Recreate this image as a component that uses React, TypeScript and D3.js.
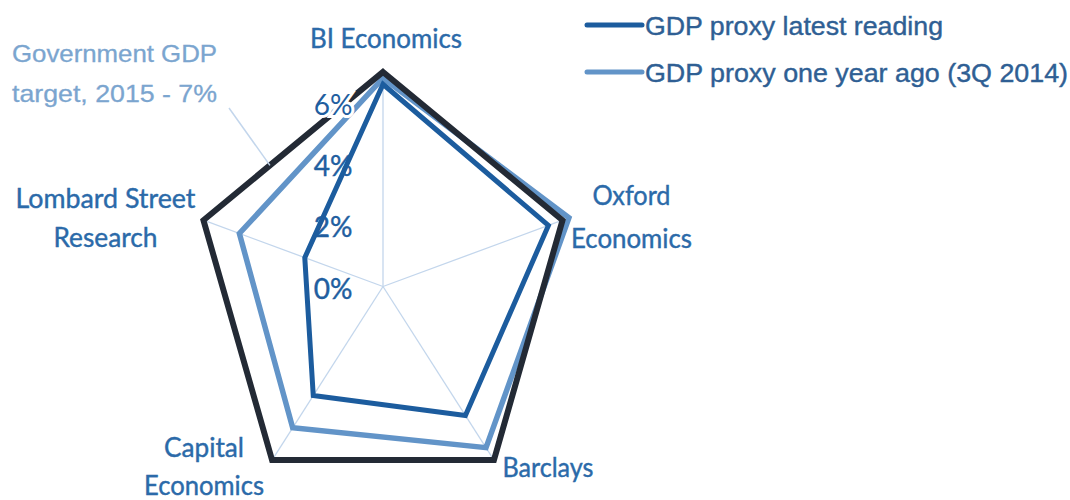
import React from "react";
import * as d3 from "d3";

// ---- data ----
const categories = ["BI Economics", "Oxford Economics", "Barclays", "Capital Economics", "Lombard Street Research"];
const categoryLines = [["BI Economics"], ["Oxford", "Economics"], ["Barclays"], ["Capital", "Economics"], ["Lombard Street", "Research"]];
const latestReading = [6.6, 6.45, 5.2, 4.4, 3.05];
const oneYearAgo = [6.8, 7.25, 6.5, 5.7, 5.6];
const governmentTarget = [7, 7, 7, 7, 7];
const tickValues = [0, 2, 4, 6];
const legendLabels = ["GDP proxy latest reading", "GDP proxy one year ago (3Q 2014)"];
const annotationLines = ["Government GDP", "target, 2015 - 7%"];

// ---- layout / style ----
const W = 1070, H = 500;
const cx = 383, cy = 286.5, R = 214.5, sx = 0.88;
const labelOffsets = [
  { dx: 3, dy: [-24] },
  { dx: 69, dy: [-15, 28] },
  { dx: 54, dy: [17] },
  { dx: -68, dy: [-3, 35] },
  { dx: -98, dy: [-12, 27] },
];
const labelWidths = [[152], [78, 121], [91], [80, 120], [180, 104]];
const COLORS = {
  latest: "#1c5c9e",
  ago: "#6294c8",
  target: "#232a35",
  axis: "#c3d6ec",
  cat: "#2b6aa9",
  tick: "#215e9f",
  legend: "#2f5f94",
  note: "#7ba5cf",
};

export default function App() {
  const r = d3.scaleLinear().domain([0, 7]).range([0, R]);
  const n = categories.length;
  const angle = (i: number) => (i * 2 * Math.PI) / n;
  const pt = (i: number, v: number): [number, number] => [
    cx + sx * r(v) * Math.sin(angle(i)),
    cy - r(v) * Math.cos(angle(i)),
  ];
  const line = d3.line<[number, number]>().curve(d3.curveLinearClosed);
  const path = (vals: number[]) => line(vals.map((v, i) => pt(i, v))) as string;

  const a = pt(n - 1, 7), b = pt(0, 7);
  const t = 0.37;
  const leaderEnd = [a[0] + (b[0] - a[0]) * t, a[1] + (b[1] - a[1]) * t];

  const catFont = "Lato, 'Open Sans', sans-serif";
  const legFont = "'Liberation Sans', Arial, sans-serif";

  return (
    <svg width={W} height={H} style={{ position: "absolute", left: 0, top: 0, background: "#fff" }}>
      <rect width={W} height={H} fill="#fff" />
      {categories.map((c, i) => {
        const [x, y] = pt(i, 7);
        return <line key={c} x1={cx} y1={cy} x2={x} y2={y} stroke={COLORS.axis} strokeWidth={1.3} />;
      })}
      <path d={path(oneYearAgo)} fill="none" stroke={COLORS.ago} strokeWidth={5.5} strokeLinejoin="miter" />
      <path d={path(governmentTarget)} fill="none" stroke={COLORS.target} strokeWidth={6} strokeLinejoin="miter" />
      {tickValues.map((v) => (
        <text
          key={v}
          x={cx - 50}
          y={cy - r(v) + 12}
          textAnchor="middle"
          fontFamily={catFont}
          fontSize={28}
          fill={COLORS.tick}
          stroke={v === 6 ? "#fff" : COLORS.tick}
          strokeWidth={v === 6 ? 6 : 0.4}
          style={{ paintOrder: "stroke" }}
        >
          {v}%
        </text>
      ))}
      <path d={path(latestReading)} fill="none" stroke={COLORS.latest} strokeWidth={5} strokeLinejoin="miter" />
      {categoryLines.map((lines, i) => {
        const [x, y] = pt(i, 7);
        const off = labelOffsets[i];
        return lines.map((ln, j) => (
          <text
            key={`${i}-${j}`}
            x={x + off.dx}
            y={y + off.dy[j]}
            textAnchor="middle"
            fontFamily={catFont}
            fontSize={26}
            fill={COLORS.cat}
            stroke={COLORS.cat}
            strokeWidth={0.4}
            textLength={labelWidths[i][j]}
            lengthAdjust="spacingAndGlyphs"
          >
            {ln}
          </text>
        ));
      })}
      <line x1={229} y1={108} x2={leaderEnd[0]} y2={leaderEnd[1]} stroke={COLORS.axis} strokeWidth={1.5} />
      {annotationLines.map((ln, j) => (
        <text
          key={ln}
          x={12}
          y={62 + j * 40}
          fontFamily={legFont}
          fontSize={24}
          fill={COLORS.note}
          stroke={COLORS.note}
          strokeWidth={0.3}
          textLength={205}
          lengthAdjust="spacingAndGlyphs"
        >
          {ln}
        </text>
      ))}
      {legendLabels.map((lbl, j) => (
        <g key={lbl} transform={`translate(587,${25 + j * 47})`}>
          <line x1={0} x2={55} y1={0} y2={0} stroke={j === 0 ? COLORS.latest : COLORS.ago} strokeWidth={5} strokeLinecap="round" />
          <text
            x={58}
            y={10}
            fontFamily={legFont}
            fontSize={25}
            fill={COLORS.legend}
            stroke={COLORS.legend}
            strokeWidth={0.4}
            textLength={j === 0 ? 298 : 423}
            lengthAdjust="spacingAndGlyphs"
          >
            {lbl}
          </text>
        </g>
      ))}
    </svg>
  );
}
